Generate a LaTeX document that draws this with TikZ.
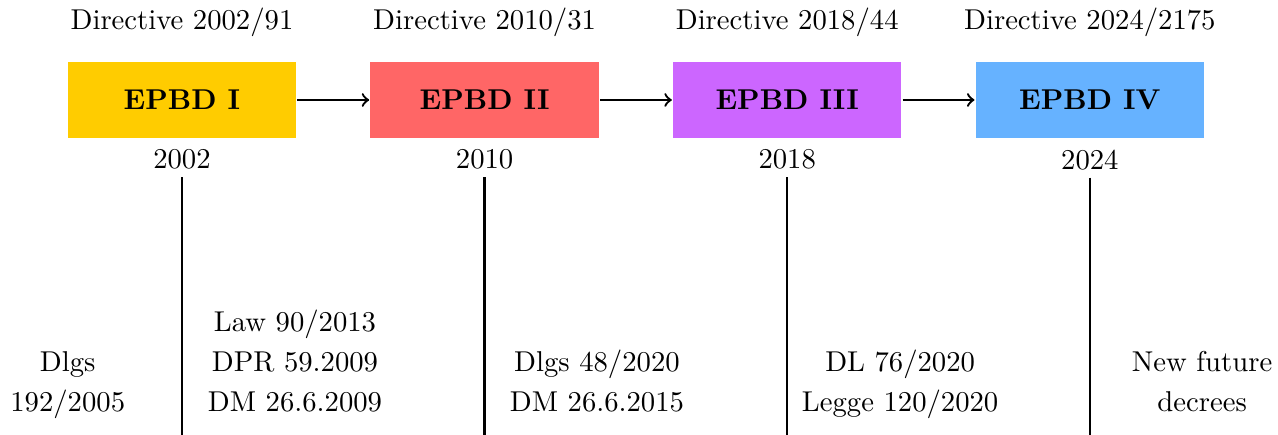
\documentclass[tikz,border=0pt]{standalone}
\usetikzlibrary{positioning}
\definecolor{epbdone}{RGB}{255,204,0}
\definecolor{epbdtwo}{RGB}{255,102,102}
\definecolor{epbdthree}{RGB}{204,102,255}
\definecolor{epbdfour}{RGB}{102,178,255}
\begin{document}
\begin{tikzpicture}[thick,
  epbd/.style={minimum width=2.8cm,minimum height=.93cm,font=\bfseries},
  decree/.style={align=center,anchor=south}]
\useasboundingbox (0,0) rectangle (15.66,-5.33);
\coordinate (bot) at (0,-5.33);
\node[epbd,fill=epbdone] (e1) at (2.23,-1.225) {EPBD I};
\node[epbd,fill=epbdtwo,right=.88cm of e1] (e2) {EPBD II};
\node[epbd,fill=epbdthree,right=.88cm of e2] (e3) {EPBD III};
\node[epbd,fill=epbdfour,right=.88cm of e3] (e4) {EPBD IV};
\foreach \a/\b in {1/2,2/3,3/4} \draw[->] (e\a) -- (e\b);
\foreach \i/\dir/\yr in {1/{2002/91}/2002,2/{2010/31}/2010,3/{2018/44}/2018,4/{2024/2175}/2024}{
  \node[above=4.7pt of e\i] (d\i) {Directive \dir};
  \node[below=0pt of e\i] (y\i) {\yr};
  \coordinate (b\i) at (y\i |- bot);
  \draw ([yshift=1pt]y\i.south) -- (b\i);
}
% national decrees
\node[decree] (l1) at (.83,-5.305) {Dlgs\\[2pt]192/2005\strut};
\node[decree] (l2) at (3.615,-5.305) {Law 90/2013\\[2pt]DPR 59.2009\\[2pt]DM 26.6.2009\strut};
\node[decree] (l3) at (7.315,-5.305) {Dlgs 48/2020\\[2pt]DM 26.6.2015\strut};
\node[decree] (l4) at (11.03,-5.305) {DL 76/2020\\[2pt]Legge 120/2020\strut};
\node[decree] (l5) at (14.73,-5.305) {New future\\[2pt]decrees\strut};
\end{tikzpicture}
\end{document}
